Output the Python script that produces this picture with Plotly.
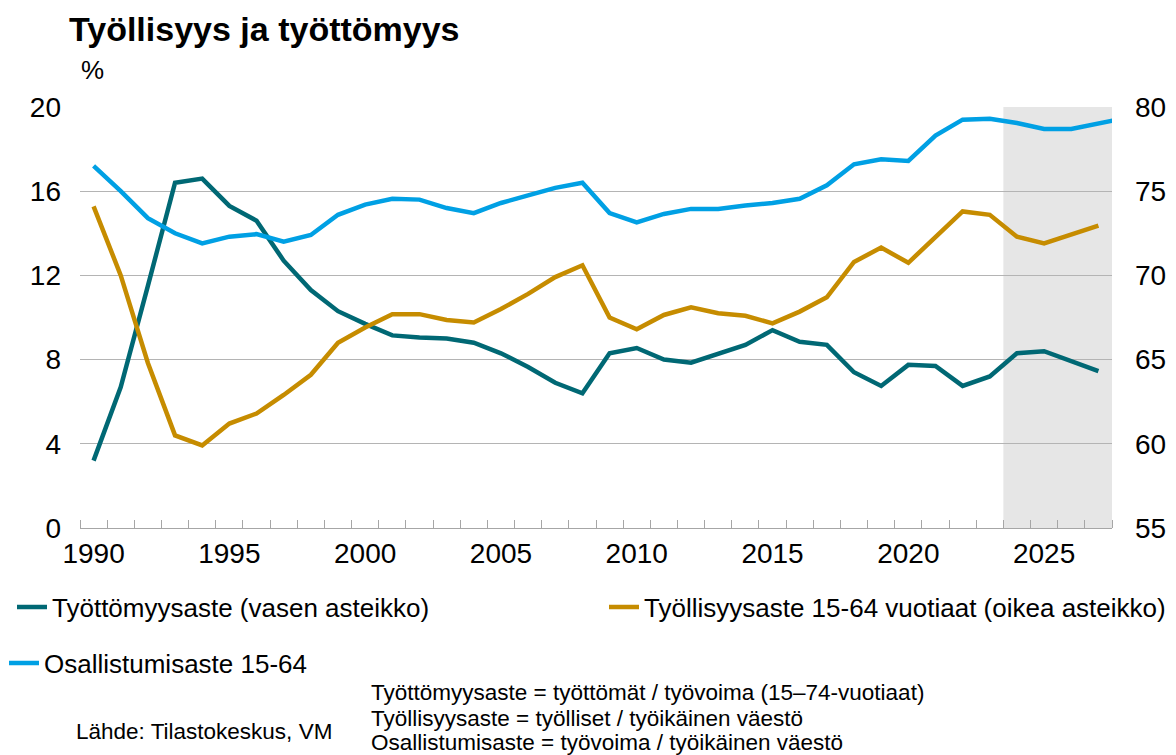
import plotly.graph_objects as go

years = list(range(1990, 2028))
years_blue = list(range(1990, 2029))

unemployment = [3.2, 6.7, 11.5, 16.4, 16.6, 15.3, 14.6, 12.7, 11.3, 10.3, 9.7, 9.15, 9.05, 9.0,
                8.8, 8.3, 7.65, 6.9, 6.4, 8.3, 8.55, 8.0, 7.85, 8.3, 8.7, 9.4, 8.85, 8.7,
                7.4, 6.75, 7.75, 7.7, 6.75, 7.2, 8.3, 8.4, 7.9, 7.45]

employment = [74.1, 70.0, 64.8, 60.5, 59.9, 61.2, 61.8, 62.9, 64.1, 66.0, 66.9, 67.7, 67.7, 67.35,
              67.2, 68.0, 68.9, 69.9, 70.6, 67.5, 66.8, 67.65, 68.1, 67.75, 67.6, 67.15, 67.85, 68.7,
              70.8, 71.65, 70.75, 72.3, 73.8, 73.6, 72.3, 71.9, 72.4, 72.95]

participation = [76.5, 75.0, 73.4, 72.5, 71.9, 72.3, 72.45, 72.0, 72.4, 73.6, 74.2, 74.55, 74.5, 74.0,
                 73.7, 74.3, 74.75, 75.2, 75.5, 73.7, 73.15, 73.65, 73.95, 73.95, 74.15, 74.3, 74.55, 75.35,
                 76.6, 76.9, 76.8, 78.3, 79.25, 79.3, 79.05, 78.7, 78.7, 79.0, 79.35]

year_ticks = [1990, 1995, 2000, 2005, 2010, 2015, 2020, 2025]
left_ticks = [0, 4, 8, 12, 16, 20]
right_ticks = [55, 60, 65, 70, 75, 80]
forecast_start, forecast_end = 2023.5, 2027.5

names = ["Työttömyysaste (vasen asteikko)",
         "Työllisyysaste 15-64 vuotiaat (oikea asteikko)",
         "Osallistumisaste 15-64"]

TEAL = "#006874"
GOLD = "#C68C00"
BLUE = "#00A0E4"
FONT = "Liberation Sans, Arial, sans-serif"

fig = go.Figure()
fig.add_trace(go.Scatter(x=years, y=unemployment, name=names[0], mode="lines",
                         line=dict(color=TEAL, width=4.5), yaxis="y", legend="legend"))
fig.add_trace(go.Scatter(x=years, y=employment, name=names[1], mode="lines",
                         line=dict(color=GOLD, width=4.5), yaxis="y2", legend="legend2"))
fig.add_trace(go.Scatter(x=years_blue, y=participation, name=names[2], mode="lines",
                         line=dict(color=BLUE, width=4.5), yaxis="y2", legend="legend3"))

fig.add_shape(type="rect", xref="x", yref="paper", x0=forecast_start, x1=forecast_end,
              y0=0, y1=1, fillcolor="#E6E6E6", line=dict(width=0), layer="below")

# page has an 8px body margin; figure size / positions are expressed in page pixels below
OFF = 8
W, H = 1176 - OFF, 755 - OFF
plot_l, plot_r, plot_t, plot_b = 80, 1112, 107, 528  # page pixels
L, R, T, B = plot_l - OFF, W - (plot_r - OFF), plot_t - OFF, H - (plot_b - OFF)
pw, ph = W - L - R, H - T - B


def px(xp):
    return (xp - plot_l) / pw


def py(yp):
    return (plot_b - yp) / ph


legend_common = dict(font=dict(family=FONT, size=26, color="#000000"), bgcolor="rgba(0,0,0,0)",
                     yanchor="middle", xanchor="left", orientation="h", itemwidth=30)

fig.update_layout(
    width=W, height=H,
    margin=dict(l=L, r=R, t=T, b=B, autoexpand=False),
    paper_bgcolor="white", plot_bgcolor="white",
    font=dict(family=FONT, color="#000000"),
    showlegend=True,
    legend=dict(x=px(12), y=py(607), **legend_common),
    legend2=dict(x=px(604), y=py(607), **legend_common),
    legend3=dict(x=px(4), y=py(663), **legend_common),
    xaxis=dict(range=[1989.5, 2027.5], tickvals=year_ticks, ticktext=[str(y) for y in year_ticks],
               ticks="", showgrid=False, zeroline=False, showline=True, linecolor="#A6A6A6",
               linewidth=1.3, tickfont=dict(size=28, family=FONT), automargin=False,
               minor=dict(tickvals=[y - 0.5 for y in years] + [2027.5], ticks="inside",
                          ticklen=8, tickcolor="#A6A6A6", tickwidth=1.3, showgrid=False)),
    yaxis=dict(range=[0, 20], tickvals=left_ticks, showgrid=True, gridcolor="#B4B4B4",
               gridwidth=1.3, zeroline=False, ticks="", tickfont=dict(size=28, family=FONT),
               ticklabelstandoff=18, automargin=False),
    yaxis2=dict(range=[55, 80], tickvals=right_ticks, overlaying="y", side="right",
                showgrid=False, zeroline=False, ticks="", tickfont=dict(size=28, family=FONT),
                ticklabelstandoff=22, automargin=False),
)

anns = [
    dict(text="<b>Työllisyys ja työttömyys</b>", x=px(67), y=py(8), size=34, anchor="top"),
    dict(text="%", x=px(79), y=py(70), size=26, anchor="middle"),
    dict(text="Työttömyysaste = työttömät / työvoima (15–74-vuotiaat)", x=px(369), y=py(692), size=22.5, anchor="middle"),
    dict(text="Työllisyysaste = työlliset / työikäinen väestö", x=px(369), y=py(718), size=22.5, anchor="middle"),
    dict(text="Osallistumisaste = työvoima / työikäinen väestö", x=px(369), y=py(742), size=22.5, anchor="middle"),
    dict(text="Lähde: Tilastokeskus, VM", x=px(74), y=py(731), size=22.5, anchor="middle"),
]
for a in anns:
    fig.add_annotation(text=a["text"], xref="paper", yref="paper", x=a["x"], y=a["y"],
                       xanchor="left", yanchor=a["anchor"], showarrow=False,
                       font=dict(family=FONT, size=a["size"], color="#000000"))

fig.write_html("out.html")
